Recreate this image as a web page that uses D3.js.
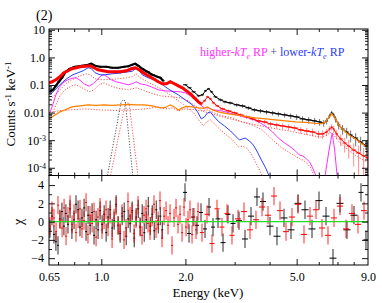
<!DOCTYPE html>
<html>
<head>
<meta charset="utf-8">
<script src="https://cdn.jsdelivr.net/npm/d3@7"></script>
<style>
  body { margin: 0; background: #fff; }
  svg  { display: block; }
</style>
</head>
<body>
<div id="chart"></div>
<script>
// ############################################################################
// Spectrum panel (2): counts spectrum + chi residuals
// ############################################################################

// ----------------------------------------------------------------------------
// Axis ticks
// ----------------------------------------------------------------------------

const energyTicks      = [0.65, 1.0, 2.0, 5.0, 9.0]
const energyTickLabels = ['0.65', '1.0', '2.0', '5.0', '9.0']
const energyMajor      = [1, 2, 5]
const energyMinor      = [0.7, 0.8, 0.9, 3, 4, 6, 7, 8]
const rateTicks        = [1e-4, 1e-3, 1e-2, 1e-1, 1, 10]
const rateTickLabels   = [['10', '-4'], ['10', '-3'], ['0.01'], ['0.1'], ['1.0'], ['10']]
const chiTicks         = [-4, -2, 0, 2, 4]
const chiMinor         = [-3, -1, 1, 3]

// ----------------------------------------------------------------------------
// Data: black detector (null = ignored channels)
// ----------------------------------------------------------------------------

const blackE = [
  0.655, 0.672, 0.688, 0.705, 0.723, 0.747, 0.773, 0.806, 0.853, 0.897,
  0.920, 0.950, 0.990, 1.041, 1.094, 1.149, 1.208, 1.248, 1.290, 1.322,
  1.356, 1.401, 1.46, 1.522, 1.587, 1.626, 1.666,
  1.80,
  1.996, 2.07, 2.14, 2.23, 2.30, 2.36, 2.42, 2.48, 2.56, 2.67,
  2.77, 2.89, 3.05, 3.20, 3.36, 3.53, 3.71, 3.90, 4.10, 4.30,
  4.53, 4.76, 5.00, 5.25, 5.52, 5.80, 6.04, 6.25, 6.40, 6.56,
  6.67, 6.78, 6.89, 7.07, 7.30, 7.55, 7.80, 8.13, 8.47, 8.90
]
const blackRate = [
  0.057, 0.067, 0.094, 0.131, 0.183, 0.302, 0.388, 0.459, 0.499, 0.543,
  0.590, 0.499, 0.459, 0.459, 0.422, 0.422, 0.459, 0.479, 0.543, 0.590,
  0.499, 0.388, 0.302, 0.235, 0.199, 0.183, 0.142,
  null,
  0.102, 0.0791, 0.0566, 0.0405, 0.044, 0.0615, 0.0727, 0.0566, 0.0372, 0.029,
  0.0245, 0.0225, 0.0191, 0.0175, 0.0148, 0.0125, 0.0115, 0.0106, 0.00975, 0.00897,
  0.00825, 0.00759, 0.00698, 0.0059, 0.00543, 0.00499, 0.00459, 0.00422, 0.00499, 0.00759,
  0.00975, 0.00825, 0.0059, 0.00357, 0.00255, 0.00199, 0.00155, 0.0012, 0.00086, 0.000615
]
const blackErr = [
  0.14, 0.12, 0.1, 0.1, 0.1, 0.1, 0.1, 0.1, 0.1, 0.1,
  0.1, 0.1, 0.1, 0.1, 0.1, 0.1, 0.1, 0.1, 0.1, 0.1,
  0.1, 0.1, 0.1, 0.1, 0.1, 0.1, 0.1,
  0,
  0.07, 0.08, 0.09, 0.1, 0.1, 0.09, 0.08, 0.09, 0.1, 0.12,
  0.12, 0.13, 0.14, 0.15, 0.16, 0.17, 0.18, 0.18, 0.19, 0.2,
  0.21, 0.22, 0.23, 0.24, 0.26, 0.27, 0.28, 0.28, 0.25, 0.2,
  0.18, 0.2, 0.26, 0.32, 0.38, 0.42, 0.46, 0.5, 0.55, 0.6
]

// ----------------------------------------------------------------------------
// Data: red detector
// ----------------------------------------------------------------------------

const redE = [
  0.65, 0.666, 0.688, 0.711, 0.735, 0.760, 0.785, 0.812, 0.839, 0.875,
  0.912, 0.942, 0.974, 1.015, 1.058, 1.112, 1.168, 1.228, 1.28, 1.322,
  1.367, 1.413, 1.473, 1.535, 1.60, 1.653, 1.709, 1.766, 1.826, 1.887,
  1.95, 2.016, 2.084, 2.154, 2.226, 2.28, 2.34, 2.40, 2.457, 2.52,
  2.60, 2.713, 2.85, 3.00, 3.15, 3.31, 3.48, 3.65, 3.84, 4.03,
  4.24, 4.45, 4.68, 4.92, 5.17, 5.43, 5.70, 5.99, 6.19, 6.40,
  6.56, 6.67, 6.78, 6.95, 7.19, 7.43, 7.68, 8.0, 8.33, 8.68,
  8.97
]
const redRate = [
  0.12, 0.131, 0.155, 0.199, 0.278, 0.328, 0.388, 0.422, 0.459, 0.479,
  0.499, 0.422, 0.357, 0.328, 0.302, 0.302, 0.302, 0.328, 0.388, 0.422,
  0.357, 0.278, 0.216, 0.168, 0.131, 0.111, 0.111, 0.131, 0.111, 0.0935,
  0.0791, 0.0615, 0.0479, 0.0342, 0.0245, 0.0207, 0.0266, 0.0372, 0.0316, 0.0225,
  0.0175, 0.0136, 0.0115, 0.00975, 0.00825, 0.00698, 0.0059, 0.00499, 0.00459, 0.00388,
  0.00357, 0.00328, 0.00302, 0.00278, 0.00235, 0.00216, 0.00199, 0.00168, 0.00168, 0.00199,
  0.00255, 0.00302, 0.00255, 0.00168, 0.00111, 0.00079, 0.000615, 0.00044, 0.000343, 0.00027,
  0.000225
]
const redErr = [
  0.16, 0.14, 0.13, 0.12, 0.12, 0.12, 0.12, 0.12, 0.12, 0.12,
  0.12, 0.12, 0.12, 0.12, 0.12, 0.12, 0.12, 0.12, 0.12, 0.12,
  0.12, 0.12, 0.12, 0.12, 0.12, 0.12, 0.12, 0.12, 0.12, 0.12,
  0.12, 0.12, 0.12, 0.12, 0.12, 0.12, 0.1, 0.09, 0.09, 0.1,
  0.11, 0.12, 0.13, 0.14, 0.15, 0.16, 0.17, 0.18, 0.19, 0.2,
  0.21, 0.22, 0.23, 0.24, 0.26, 0.28, 0.3, 0.32, 0.33, 0.3,
  0.26, 0.24, 0.28, 0.35, 0.45, 0.55, 0.65, 0.75, 0.85, 0.9,
  0.95
]

// ----------------------------------------------------------------------------
// Data: model components
// ----------------------------------------------------------------------------

// Background-like component (orange, black detector)
const orangeE = [
  0.65, 0.683, 0.711, 0.741, 0.785, 0.839, 0.897, 0.958, 1.024, 1.094,
  1.168, 1.248, 1.333, 1.425, 1.522, 1.626, 1.695, 1.766, 1.826, 1.887,
  1.95, 2.016, 2.118, 2.226, 2.32, 2.40, 2.50, 2.625, 2.78, 3.02,
  3.28, 3.56, 3.87, 4.20, 4.56, 4.96, 5.38, 5.85, 6.14, 6.35,
  6.53, 6.67, 6.78, 6.89, 7.07, 7.30, 7.55, 7.80, 8.13, 8.47,
  8.90
]
const orangeRate = [
  0.0059, 0.00825, 0.0106, 0.0125, 0.0161, 0.0175, 0.0191, 0.0183, 0.0191, 0.0183,
  0.0191, 0.0199, 0.0191, 0.0191, 0.0175, 0.0148, 0.0154, 0.0191, 0.0161, 0.0125,
  0.0148, 0.0168, 0.0161, 0.0148, 0.0142, 0.0161, 0.0125, 0.0106, 0.0094, 0.00825,
  0.0073, 0.00642, 0.0059, 0.00543, 0.00499, 0.00459, 0.0044, 0.0041, 0.0040, 0.00459,
  0.00698, 0.0092, 0.00759, 0.0059, 0.00357, 0.00255, 0.00183, 0.00142, 0.00111, 0.00079,
  0.000566
]

// Lower-kTe RP (blue)
const lowKtE = [
  0.655, 0.677, 0.700, 0.729, 0.760, 0.792, 0.826, 0.861, 0.897, 0.92,
  0.950, 0.99, 1.032, 1.094, 1.149, 1.218, 1.29, 1.333, 1.367, 1.401,
  1.473, 1.56, 1.626, 1.695, 1.78, 1.887, 1.996, 2.118, 2.21, 2.28,
  2.34, 2.40, 2.457, 2.52, 2.625, 2.758, 2.90, 3.02, 3.12, 3.20,
  3.27, 3.39, 3.50, 3.62, 3.74, 3.87, 4.0
]
const lowKtRate = [
  0.044, 0.0615, 0.086, 0.131, 0.183, 0.235, 0.278, 0.328, 0.422, 0.40,
  0.278, 0.235, 0.235, 0.255, 0.266, 0.29, 0.315, 0.40, 0.328, 0.235,
  0.183, 0.155, 0.12, 0.086, 0.0615, 0.044, 0.029, 0.0191, 0.0106, 0.0059,
  0.00698, 0.00975, 0.0106, 0.00759, 0.0048, 0.00328, 0.00216, 0.00142, 0.00102, 0.00111,
  0.0012, 0.000935, 0.000669, 0.00037, 0.000191, 0.0001, 0.000047
]

// Higher-kTe RP (magenta)
const highKtE = [
  0.655, 0.672, 0.688, 0.705, 0.729, 0.760, 0.785, 0.812, 0.839, 0.868,
  0.904, 0.935, 0.966, 0.999, 1.024, 1.049, 1.085, 1.130, 1.188, 1.248,
  1.29, 1.333, 1.378, 1.437, 1.51, 1.60, 1.695, 1.796, 1.919, 1.996,
  2.084, 2.17, 2.263, 2.34, 2.417, 2.52, 2.65, 2.78, 2.95, 3.15,
  3.36, 3.53, 3.71, 3.90, 4.10, 4.30, 4.53, 4.76, 4.96, 5.12,
  5.25, 5.38, 5.57, 5.70, 5.89
]
const highKtRate = [
  0.0098, 0.0207, 0.044, 0.079, 0.12, 0.155, 0.175, 0.183, 0.148, 0.111,
  0.09, 0.111, 0.155, 0.216, 0.235, 0.199, 0.155, 0.131, 0.116, 0.102,
  0.111, 0.131, 0.111, 0.102, 0.086, 0.0669, 0.0615, 0.059, 0.0566, 0.052,
  0.0405, 0.029, 0.0191, 0.0148, 0.0148, 0.0125, 0.012, 0.0106, 0.00897, 0.00759,
  0.00642, 0.00543, 0.00422, 0.00302, 0.00199, 0.0012, 0.00079, 0.000566, 0.0004, 0.00029,
  0.00027, 0.000225, 0.000161, 0.0001, 0.000047
]
const feLineE    = [6.30, 6.53, 6.70, 6.84, 6.99]
const feLineRate = [4.2e-5, 0.00044, 0.00183, 0.00044, 4.2e-5]

// Gaussian line near 1.2 keV (dotted, black and red detector)
const gaussBlackE    = [1.048, 1.178, 1.196, 1.218, 1.299]
const gaussBlackRate = [4.2e-5, 0.0245, 0.029, 0.0266, 4.2e-5]
const gaussRedE      = [1.074, 1.218, 1.237, 1.258, 1.356]
const gaussRedRate   = [4.2e-5, 0.0207, 0.0225, 0.0207, 4.2e-5]

// Red-detector components (dotted)
const redLowKtE = [
  0.655, 0.683, 0.711, 0.747, 0.785, 0.826, 0.882, 0.912, 0.95, 1.007,
  1.076, 1.149, 1.228, 1.29, 1.333, 1.378, 1.46, 1.56, 1.653, 1.766,
  1.887, 2.016, 2.14, 2.245, 2.32, 2.38, 2.457, 2.54, 2.67, 2.80,
  2.95, 3.10, 3.20, 3.31, 3.42, 3.53, 3.65, 3.78
]
const redLowKtRate = [
  0.029, 0.044, 0.0669, 0.111, 0.155, 0.199, 0.255, 0.235, 0.168, 0.155,
  0.16, 0.168, 0.183, 0.199, 0.255, 0.183, 0.131, 0.0935, 0.0669, 0.044,
  0.0266, 0.0161, 0.00975, 0.005, 0.00328, 0.00459, 0.00543, 0.00388, 0.00235, 0.00155,
  0.00102, 0.000566, 0.000615, 0.00052, 0.000343, 0.000191, 0.0001, 0.000047
]
const redHighKtE = [
  0.666, 0.688, 0.711, 0.741, 0.785, 0.812, 0.853, 0.904, 0.942, 0.982,
  1.024, 1.076, 1.149, 1.248, 1.333, 1.401, 1.497, 1.626, 1.766, 1.919,
  2.05, 2.17, 2.30, 2.417, 2.56, 2.71, 2.90, 3.10, 3.31, 3.53,
  3.71, 3.90, 4.10, 4.38, 4.68, 5.0, 5.25, 5.43, 5.61, 5.80
]
const redHighKtRate = [
  0.00825, 0.0191, 0.0405, 0.0669, 0.0935, 0.102, 0.079, 0.0566, 0.0669, 0.102,
  0.12, 0.0935, 0.076, 0.0669, 0.079, 0.0669, 0.052, 0.0405, 0.0372, 0.0342,
  0.0266, 0.0175, 0.0115, 0.00975, 0.00825, 0.00698, 0.0059, 0.00499, 0.00422, 0.00328,
  0.00255, 0.00168, 0.00102, 0.000566, 0.00037, 0.000245, 0.000191, 0.00015, 0.0001, 0.000047
]
const redBgdE = [
  0.65, 0.70, 0.773, 0.875, 0.99, 1.121, 1.269, 1.437, 1.587, 1.695,
  1.796, 1.887, 1.996, 2.118, 2.263, 2.40, 2.54, 2.71, 2.95, 3.20,
  3.53, 3.90, 4.30, 4.76, 5.25, 5.80, 6.14, 6.40, 6.6, 6.78,
  7.0, 7.30, 7.68, 8.13, 8.9
]
const redBgdRate = [
  0.0097, 0.0115, 0.0125, 0.0136, 0.0125, 0.012, 0.0125, 0.0136, 0.0161, 0.0136,
  0.0148, 0.0115, 0.0136, 0.013, 0.0115, 0.0125, 0.00975, 0.00759, 0.00642, 0.0045,
  0.0037, 0.0030, 0.0025, 0.0021, 0.0017, 0.0014, 0.0013, 0.0015, 0.0019, 0.0016,
  0.001, 0.00065, 0.00043, 0.00028, 0.00016
]

// ----------------------------------------------------------------------------
// Data: residuals (chi)
// ----------------------------------------------------------------------------

const blackResE = [
  0.655, 0.666, 0.677, 0.688, 0.700, 0.711, 0.723, 0.735, 0.747, 0.760,
  0.773, 0.785, 0.799, 0.812, 0.826, 0.839, 0.853, 0.868, 0.882, 0.897,
  0.912, 0.927, 0.942, 0.958, 0.974, 0.990, 1.007, 1.024, 1.041, 1.058,
  1.076, 1.094, 1.112, 1.130, 1.149, 1.168, 1.188, 1.208, 1.228, 1.248,
  1.269, 1.290, 1.312, 1.333, 1.356, 1.378, 1.401, 1.425, 1.448, 1.473,
  1.497, 1.522, 1.547, 1.573, 1.600, 1.626, 1.653,
  1.993, 2.060, 2.129, 2.200, 2.274, 2.350, 2.429, 2.510, 2.616, 2.726,
  2.840, 2.960, 3.110, 3.267, 3.433, 3.606, 3.789, 4.014, 4.252, 4.505,
  4.772, 5.056, 5.356, 5.674, 6.011, 6.368, 6.745, 7.146, 7.570, 8.019,
  8.495, 8.85
]
const blackChi = [
  -0.8, 0.6, -1.4, -2.2, -2.6, 0.3, 1.1, -0.5, 0.9, -0.3,
  1.4, -0.9, 0.2, 1.9, 1.3, -0.6, 0.4, 1.5, -1.1, 0.7,
  -0.4, 1.0, -1.5, 0.2, -0.9, 1.2, -0.3, 0.8, -1.2, 0.5,
  1.3, -0.7, 0.1, 1.9, -0.4, -1.3, 0.6, 1.1, -1.6, 0.3,
  -0.2, 1.2, -1.8, 0.5, 1.4, -0.6, 0.9, -1.2, 0.2, 1.7,
  -0.5, 0.8, -1.0, 1.3, -0.3, 0.6, -0.9,
  3.2, -1.3, 0.5, -0.4, 1.0, -0.8, 1.6, -0.6, 0.3, -2.3,
  0.8, -0.2, 0.1, -1.9, 0.6, 2.7, 2.2, -0.5, -1.6, 0.4,
  -0.9, 2.0, 1.3, -0.8, 2.3, 0.6, -4.0, 2.0, -0.9, 0.7,
  3.2, -2.0
]
const redResE = [
  0.655, 0.666, 0.677, 0.689, 0.700, 0.712, 0.724, 0.736, 0.748, 0.760,
  0.773, 0.786, 0.799, 0.812, 0.826, 0.839, 0.853, 0.867, 0.882, 0.896,
  0.911, 0.927, 0.942, 0.958, 0.973, 0.990, 1.006, 1.023, 1.040, 1.057,
  1.075, 1.093, 1.111, 1.129, 1.148, 1.167, 1.186, 1.206, 1.226, 1.246,
  1.267, 1.288, 1.310, 1.331, 1.353, 1.376, 1.399, 1.422, 1.446, 1.470,
  1.494, 1.519, 1.544, 1.570, 1.596, 1.622, 1.649, 1.677, 1.705, 1.733,
  1.762, 1.791, 1.821, 1.851, 1.882, 1.913, 1.945, 1.977, 2.010, 2.043,
  2.077, 2.112, 2.147, 2.182, 2.219,
  2.292, 2.389, 2.489, 2.594, 2.703, 2.817, 2.935, 3.084, 3.240, 3.405,
  3.577, 3.758, 3.949, 4.149, 4.359, 4.580, 4.812, 5.056, 5.312, 5.581,
  5.864, 6.161, 6.473, 6.801, 7.146, 7.508, 7.888, 8.288, 8.708
]
const redChi = [
  -0.5, 1.2, 0.4, -1.1, 1.8, 0.2, -0.7, 1.5, -1.6, 0.6,
  1.9, -0.3, 0.9, -1.2, 0.3, 1.4, -0.8, 0.1, 2.1, -1.4,
  0.7, -0.2, 1.1, -1.7, 0.5, 1.6, -0.9, 0.2, 1.3, -0.6,
  0.8, -1.9, 0.4, 1.7, -0.4, -1.1, 0.9, -2.0, -0.7, 2.2,
  0.6, 1.0, -1.3, 0.3, 1.8, -0.5, -1.5, 0.7, 1.4, -0.2,
  -1.0, 0.5, 1.9, -0.8, 0.1, 2.3, -1.8, 0.6, 1.2, -0.4,
  0.9, -2.6, 0.4, 1.5, -0.3, 0.8, -1.2, 1.6, -0.6, 0.2,
  1.3, -1.4, 0.5, -0.9, 1.1,
  -1.2, 0.8, -2.4, 1.4, -0.6, 0.9, -1.5, 0.3, 1.1, -0.9,
  0.2, 1.6, 0.7, 2.8, 1.2, -1.1, 0.5, 1.9, -1.4, 0.6,
  1.3, -0.7, -1.5, 0.4, 1.7, -0.8, 0.9, -0.3, 1.2
]


// ============================================================================
// Layout and scales
// ============================================================================

const W = 382, H = 303
const frame = { left: 49, right: 368, top: 29, mid: 175.5, bottom: 265 }
const serif = "'Liberation Serif', 'Times New Roman', 'DejaVu Serif', serif"

const x = d3.scaleLog()
  .domain([0.65, 9.0])
  .range([frame.left, frame.right])
const yRate = d3.scaleLog()
  .domain([Math.pow(10, -4.28), Math.pow(10, 1.03)])
  .range([frame.mid, frame.top])
const yChi = d3.scaleLinear()
  .domain([-4.75, 5.05])
  .range([frame.bottom, frame.mid])

const colors = {
  black:   '#000000',
  red:     '#ff0000',
  orange:  '#ff8000',
  blue:    '#2a3cff',
  magenta: '#ff30ff',
  redDot:  '#ff5050',
  gauss:   '#505050',
  zero:    '#22dd22',
}

const svg = d3.select('#chart').append('svg')
  .attr('width', W)
  .attr('height', H)
  .style('font-family', serif)
  .style('background-color', '#fff')

// Clip paths for both panels
const defs = svg.append('defs')
defs.append('clipPath').attr('id', 'clip-top').append('rect')
  .attr('x', frame.left).attr('y', frame.top)
  .attr('width', frame.right - frame.left).attr('height', frame.mid - frame.top)
defs.append('clipPath').attr('id', 'clip-bot').append('rect')
  .attr('x', frame.left).attr('y', frame.mid)
  .attr('width', frame.right - frame.left).attr('height', frame.bottom - frame.mid)

const topG = svg.append('g').attr('clip-path', 'url(#clip-top)')
const botG = svg.append('g').attr('clip-path', 'url(#clip-bot)')


// ============================================================================
// Helpers
// ============================================================================

const zip = (es, vs) => es.map((e, i) => [e, vs[i]])

const rateLine = d3.line()
  .defined(d => d[1] != null)
  .x(d => x(d[0]))
  .y(d => yRate(d[1]))

// Symmetric (in log space) bin edges around each energy
function binEdges(es)
{
  return es.map((e, i) => {
    const l = i > 0 ? Math.log(e / es[i - 1]) : Infinity
    const r = i < es.length - 1 ? Math.log(es[i + 1] / e) : Infinity
    const h = Math.min(l, r) / 2
    return [e * Math.exp(-h), e * Math.exp(h)]
  })
}

function drawCurve(g, es, vs, color, width, dash)
{
  g.append('path')
    .datum(zip(es, vs))
    .attr('d', rateLine)
    .attr('fill', 'none')
    .attr('stroke', color)
    .attr('stroke-width', width)
    .attr('stroke-dasharray', dash || null)
}

function drawDataCrosses(g, es, vs, errs, color, errOpacity)
{
  const pts = es.map((e, i) => ({ e: e, v: vs[i], err: errs[i] }))
    .filter(d => d.v != null)
  const edges = binEdges(pts.map(d => d.e))
  const lowest = yRate.domain()[0] * 0.5

  pts.forEach((d, i) => {
    const lo = d.err < 0.97 ? d.v * (1 - d.err) : lowest
    g.append('line')
      .attr('x1', x(d.e)).attr('x2', x(d.e))
      .attr('y1', yRate(lo)).attr('y2', yRate(d.v * (1 + d.err)))
      .attr('stroke', color).attr('stroke-width', 1)
      .attr('stroke-opacity', errOpacity)
    g.append('line')
      .attr('x1', x(edges[i][0])).attr('x2', x(edges[i][1]))
      .attr('y1', yRate(d.v)).attr('y2', yRate(d.v))
      .attr('stroke', color).attr('stroke-width', 1)
  })
}

function drawResiduals(g, es, chis, color, errOpacity)
{
  const edges = binEdges(es)
  es.forEach((e, i) => {
    g.append('line')
      .attr('x1', x(e)).attr('x2', x(e))
      .attr('y1', yChi(chis[i] - 1)).attr('y2', yChi(chis[i] + 1))
      .attr('stroke', color).attr('stroke-width', 1.2)
      .attr('stroke-opacity', errOpacity)
    g.append('line')
      .attr('x1', x(edges[i][0])).attr('x2', x(edges[i][1]))
      .attr('y1', yChi(chis[i])).attr('y2', yChi(chis[i]))
      .attr('stroke', color).attr('stroke-width', 1)
  })
}


// ============================================================================
// Upper panel: spectrum
// ============================================================================

const dotted = '1.2,1.6'

// Red-detector components (dotted)
drawCurve(topG, redBgdE,    redBgdRate,    colors.redDot, 1, dotted)
drawCurve(topG, redHighKtE, redHighKtRate, colors.redDot, 1, dotted)
drawCurve(topG, redLowKtE,  redLowKtRate,  colors.redDot, 1, dotted)

// Gaussian lines
drawCurve(topG, gaussBlackE, gaussBlackRate, colors.gauss,  1, dotted)
drawCurve(topG, gaussRedE,   gaussRedRate,   colors.redDot, 1, dotted)

// Black-detector RP components
drawCurve(topG, highKtE, highKtRate, colors.magenta, 1)
drawCurve(topG, feLineE, feLineRate, colors.magenta, 1)
drawCurve(topG, lowKtE,  lowKtRate,  colors.blue,    1)

// Black data + model
drawCurve(topG, blackE.filter(e => e < 1.7), blackRate.filter((v, i) => blackE[i] < 1.7),
  colors.black, 2.2)
drawCurve(topG, blackE, blackRate, colors.black, 1)
drawDataCrosses(topG, blackE, blackRate, blackErr, colors.black, 0.55)

// Red data + model
drawCurve(topG, redE.filter(e => e < 2.3), redRate.filter((v, i) => redE[i] < 2.3),
  colors.red, 3)
drawCurve(topG, redE, redRate, colors.red, 1)
drawDataCrosses(topG, redE, redRate, redErr, colors.red, 0.45)

// Orange component on top
drawCurve(topG, orangeE, orangeRate, colors.orange, 1.2)


// ============================================================================
// Lower panel: residuals
// ============================================================================

drawResiduals(botG, blackResE, blackChi, colors.black, 0.7)
drawResiduals(botG, redResE,   redChi,   colors.red,   0.7)

botG.append('line')
  .attr('x1', frame.left).attr('x2', frame.right)
  .attr('y1', yChi(0)).attr('y2', yChi(0))
  .attr('stroke', colors.zero).attr('stroke-width', 1.2)


// ============================================================================
// Axes (inward ticks on all sides)
// ============================================================================

function styleAxis(g)
{
  g.select('.domain').remove()
  g.selectAll('.tick line').attr('stroke', '#000').attr('stroke-width', 0.9)
  g.attr('font-family', serif).attr('font-size', 12)
  g.selectAll('.tick text').attr('fill', '#000')
}

const rateMinor = []
for (let dec = -5; dec <= 1; dec++)
  for (let m = 2; m <= 9; m++) {
    const v = m * Math.pow(10, dec)
    if (v > yRate.domain()[0] && v < yRate.domain()[1])
      rateMinor.push(v)
  }

// x axes: bottom of each panel and top of each panel
const xAxes = [
  { y: frame.mid,    gen: d3.axisBottom },
  { y: frame.bottom, gen: d3.axisBottom },
  { y: frame.top,    gen: d3.axisTop },
  { y: frame.mid,    gen: d3.axisTop },
]
for (let a of xAxes)
{
  svg.append('g').attr('transform', `translate(0,${a.y})`)
    .call(a.gen(x).tickValues(energyMajor).tickSize(-6).tickFormat(''))
    .call(styleAxis)
  svg.append('g').attr('transform', `translate(0,${a.y})`)
    .call(a.gen(x).tickValues(energyMinor).tickSize(-3).tickFormat(''))
    .call(styleAxis)
}

// x tick labels
svg.append('g').attr('transform', `translate(0,${frame.bottom})`)
  .call(d3.axisBottom(x).tickValues(energyTicks).tickSize(0).tickPadding(7)
    .tickFormat((d, i) => energyTickLabels[i]))
  .call(styleAxis)

// y axes, upper panel
svg.append('g').attr('transform', `translate(${frame.left},0)`)
  .call(d3.axisLeft(yRate).tickValues(rateTicks).tickSize(-6).tickPadding(4)
    .tickFormat(''))
  .call(styleAxis)
  .call(g => g.selectAll('.tick text').each(function(d, i) {
    const lab = rateTickLabels[i]
    const t = d3.select(this)
    t.text(null)
    if (lab.length == 1)
      t.attr('x', -4).text(lab[0])
    else
    {
      t.attr('x', -3)
      t.append('tspan').text(lab[0])
      t.append('tspan').attr('dy', '-0.45em').attr('font-size', 8).text(lab[1])
    }
  }))
svg.append('g').attr('transform', `translate(${frame.left},0)`)
  .call(d3.axisLeft(yRate).tickValues(rateMinor).tickSize(-3).tickFormat(''))
  .call(styleAxis)
svg.append('g').attr('transform', `translate(${frame.right},0)`)
  .call(d3.axisRight(yRate).tickValues(rateTicks).tickSize(-6).tickFormat(''))
  .call(styleAxis)
svg.append('g').attr('transform', `translate(${frame.right},0)`)
  .call(d3.axisRight(yRate).tickValues(rateMinor).tickSize(-3).tickFormat(''))
  .call(styleAxis)

// y axes, lower panel
svg.append('g').attr('transform', `translate(${frame.left},0)`)
  .call(d3.axisLeft(yChi).tickValues(chiTicks).tickSize(-6).tickPadding(5))
  .call(styleAxis)
svg.append('g').attr('transform', `translate(${frame.left},0)`)
  .call(d3.axisLeft(yChi).tickValues(chiMinor).tickSize(-3).tickFormat(''))
  .call(styleAxis)
svg.append('g').attr('transform', `translate(${frame.right},0)`)
  .call(d3.axisRight(yChi).tickValues(chiTicks).tickSize(-6).tickFormat(''))
  .call(styleAxis)
svg.append('g').attr('transform', `translate(${frame.right},0)`)
  .call(d3.axisRight(yChi).tickValues(chiMinor).tickSize(-3).tickFormat(''))
  .call(styleAxis)

// Frames
for (let [y0, y1] of [[frame.top, frame.mid], [frame.mid, frame.bottom]])
  svg.append('rect')
    .attr('x', frame.left).attr('y', y0)
    .attr('width', frame.right - frame.left).attr('height', y1 - y0)
    .attr('fill', 'none').attr('stroke', '#000').attr('stroke-width', 1)


// ============================================================================
// Texts
// ============================================================================

svg.append('text')
  .attr('x', 36).attr('y', 20)
  .style('font-size', '14px')
  .text('(2)')

// y label: Counts s^-1 keV^-1
const yLab = svg.append('text')
  .attr('transform', 'translate(15,104) rotate(-90)')
  .attr('text-anchor', 'middle')
  .style('font-size', '13px')
yLab.append('tspan').text('Counts s')
yLab.append('tspan').attr('dy', -4).style('font-size', '9px').text('-1')
yLab.append('tspan').attr('dy', 4).text(' keV')
yLab.append('tspan').attr('dy', -4).style('font-size', '9px').text('-1')

svg.append('text')
  .attr('transform', 'translate(23,222) rotate(-90)')
  .attr('text-anchor', 'middle')
  .style('font-size', '14px')
  .text('χ')

svg.append('text')
  .attr('x', 208).attr('y', 297)
  .attr('text-anchor', 'middle')
  .style('font-size', '13px')
  .text('Energy (keV)')

// Legend: higher-kTe RP + lower-kTe RP
const legend = svg.append('text')
  .attr('x', 200).attr('y', 56)
  .style('font-size', '12px')
const legendParts = [
  { t: 'higher-', c: colors.magenta },
  { t: 'kT', c: colors.magenta, it: true },
  { t: 'e', c: colors.magenta, it: true, sub: true },
  { t: ' RP', c: colors.magenta, back: true },
  { t: ' + ', c: '#4a4a8a' },
  { t: 'lower-', c: colors.blue },
  { t: 'kT', c: colors.blue, it: true },
  { t: 'e', c: colors.blue, it: true, sub: true },
  { t: ' RP', c: colors.blue, back: true },
]
for (let p of legendParts)
{
  const s = legend.append('tspan')
    .attr('fill', p.c)
    .style('font-style', p.it ? 'italic' : 'normal')
    .text(p.t)
  if (p.sub)  s.attr('dy', 3).style('font-size', '8px')
  if (p.back) s.attr('dy', -3)
}
</script>
</body>
</html>
